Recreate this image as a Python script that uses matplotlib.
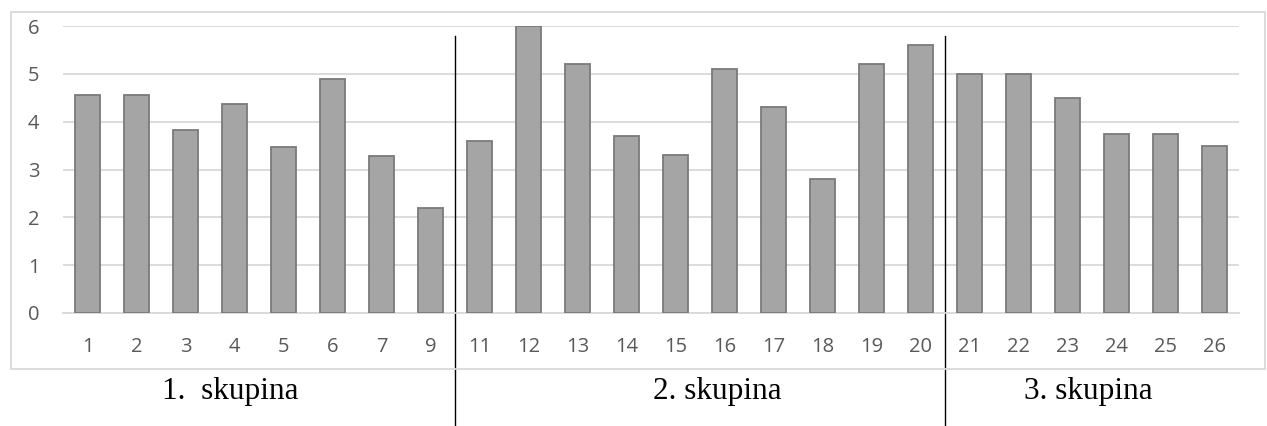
import numpy as np
import matplotlib.pyplot as plt
from matplotlib.patches import Rectangle
from matplotlib.lines import Line2D
from matplotlib.transforms import blended_transform_factory

# data
labels = ['1', '2', '3', '4', '5', '6', '7', '9',
          '11', '12', '13', '14', '15', '16', '17', '18', '19', '20',
          '21', '22', '23', '24', '25', '26']
values = [4.55, 4.55, 3.82, 4.37, 3.46, 4.90, 3.28, 2.19,
          3.60, 6.00, 5.20, 3.70, 3.30, 5.10, 4.30, 2.80, 5.20, 5.60,
          5.00, 5.00, 4.50, 3.75, 3.75, 3.50]
group_names = ['1.  skupina', '2. skupina', '3. skupina']
group_bounds = [7.5, 17.5]  # separators between groups (category index)

W, H = 1267, 426
fig = plt.figure(figsize=(W / 100, H / 100), dpi=100)
ax = fig.add_axes([63 / W, 1 - 313 / H, (1239 - 63) / W, (313 - 26) / H])

x = np.arange(len(values))
ax.bar(x, values, width=0.53, color='#a5a5a5', edgecolor='#7a7a7a', linewidth=1.3, zorder=3)

tick_font = dict(family='Open Sans', fontsize=14.5, color='#595959')
ax.set_xlim(-0.5, len(values) - 0.5)
ax.set_ylim(0, 6)
ax.set_yticks(range(0, 7))
ax.set_yticklabels([str(v) for v in range(0, 7)], ha='center', **tick_font)
ax.set_xticks(x)
ax.set_xticklabels(labels, **tick_font)
ax.yaxis.grid(True, color='#d9d9d9', linewidth=1.3, zorder=0)
ax.set_axisbelow(True)
for s in ['top', 'right', 'left']:
    ax.spines[s].set_visible(False)
ax.spines['bottom'].set_color('#d9d9d9')
ax.spines['bottom'].set_linewidth(1.3)
ax.tick_params(axis='both', length=0)
ax.tick_params(axis='x', pad=17)
ax.tick_params(axis='y', pad=21)

# outer chart border
fig.add_artist(Rectangle((11 / W, 1 - 369 / H), (1265 - 11) / W, (369 - 12) / H,
                         transform=fig.transFigure, fill=False,
                         edgecolor='#d9d9d9', linewidth=1.3))

# group separators
trans = blended_transform_factory(ax.transData, fig.transFigure)
for b in group_bounds:
    ax.add_line(Line2D([b, b], [0, 1 - 36 / H], transform=trans, color='black',
                       linewidth=1.0, clip_on=False))

# group labels
for name, px in zip(group_names, [230, 717, 1088]):
    fig.text(px / W, 1 - 392 / H, name, ha='center', va='center',
             fontsize=22.5, family='Liberation Serif', color='black')

fig.savefig('out.png', dpi=100)
